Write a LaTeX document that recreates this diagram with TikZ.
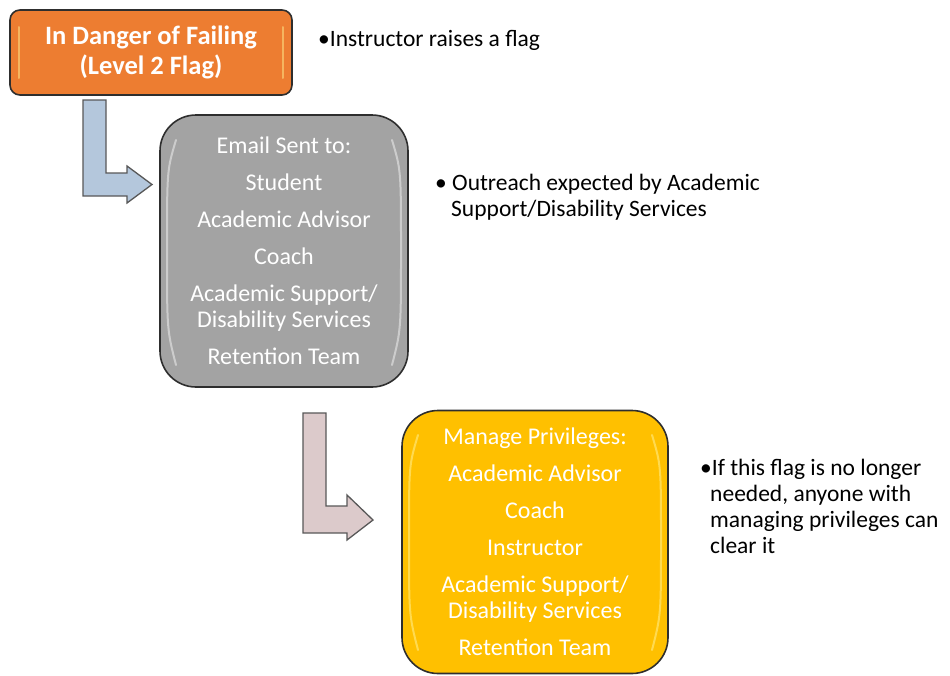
\documentclass[tikz,border=0pt]{standalone}
\usepackage{fontspec}
\setmainfont{Carlito}
\definecolor{orng}{HTML}{ED7D31}
\definecolor{gry}{HTML}{A3A3A3}
\definecolor{yel}{HTML}{FFC000}
\definecolor{arblue}{HTML}{B4C7DC}
\definecolor{arpink}{HTML}{DCCACB}
\definecolor{edge}{HTML}{2E2E2E}
\tikzset{
  flagbox/.style={draw=edge, line width=1.6pt, text=white, align=center, inner sep=0pt},
  boxtext/.style={font=\fontsize{24}{26}\selectfont},
  bentarrow/.style={draw=edge!80, line width=1.3pt, line join=miter},
  hl/.style={line width=2pt, line cap=round, opacity=0.45},
  note/.style={anchor=west, align=left, inner sep=0pt, font=\fontsize{23.5}{26}\selectfont, text=black}
}
\begin{document}
\begin{tikzpicture}[x=1pt,y=-1pt]
\useasboundingbox (0,0) rectangle (950,675);
\clip (0,0) rectangle (950,675);
% box 1
\node[flagbox, fill=orng, rounded corners=10pt, minimum width=282pt, minimum height=85pt,
      font=\fontsize{26.5}{30}\bfseries\selectfont] (b1) at (151,52.5)
  {In Danger of Failing\\(Level 2 Flag)};
\draw[hl, draw=yellow!40] (19,27) -- (19,78);
\draw[hl, draw=yellow!40] (283,27) -- (283,78);
% box 2
\node[flagbox, fill=gry, rounded corners=36pt, minimum width=248pt, minimum height=272pt, boxtext] (b2) at (284,251)
  {Email Sent to:\\[11pt]Student\\[11pt]Academic Advisor\\[11pt]Coach\\[11pt]Academic Support/\\Disability Services\\[11pt]Retention Team};
\draw[hl, draw=white] (176,140) .. controls (167,170) .. (167,250) .. controls (167,330) .. (176,365);
\draw[hl, draw=white] (392,140) .. controls (401,170) .. (401,250) .. controls (401,330) .. (392,365);
% box 3
\node[flagbox, fill=yel, rounded corners=36pt, minimum width=266pt, minimum height=263pt, boxtext] (b3) at (535,542)
  {Manage Privileges:\\[11pt]Academic Advisor\\[11pt]Coach\\[11pt]Instructor\\[11pt]Academic Support/\\Disability Services\\[11pt]Retention Team};
\draw[hl, draw=yellow!30] (418,435) .. controls (409,465) .. (409,540) .. controls (409,615) .. (418,650);
\draw[hl, draw=yellow!30] (652,435) .. controls (661,465) .. (661,540) .. controls (661,615) .. (652,650);
% bent arrows
\draw[bentarrow, fill=arblue] (83,100) -- (106,100) -- (106,173) -- (127,173) -- (127,166) -- (152,184.5)
  -- (127,203) -- (127,196) -- (83,196) -- cycle;
\draw[bentarrow, fill=arpink] (303,413) -- (326,413) -- (326,506) -- (347,506) -- (347,495) -- (373,520)
  -- (347,540) -- (347,533) -- (303,533) -- cycle;
% notes
\node[note] (n1) at (318,40) {•Instructor raises a flag};
\node[note] (n2) at (435,197) {• Outreach expected by Academic\\\hspace*{16pt}Support/Disability Services};
\node[note] (n3) at (700,506) {•If this flag is no longer\\\hspace*{10pt}needed, anyone with\\\hspace*{10pt}managing privileges can\\\hspace*{10pt}clear it};
\end{tikzpicture}
\end{document}
